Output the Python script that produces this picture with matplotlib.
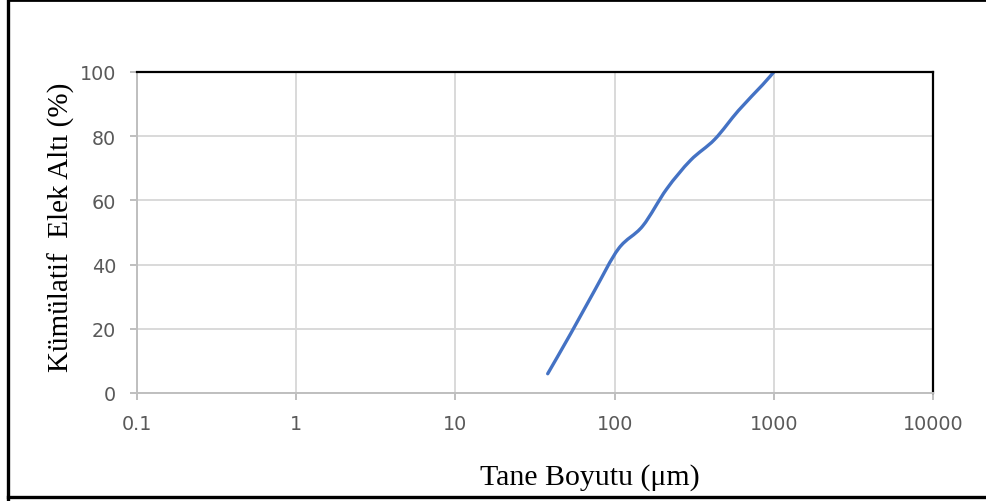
import numpy as np
import matplotlib.pyplot as plt
from matplotlib.path import Path
from matplotlib.patches import PathPatch
from matplotlib.lines import Line2D

# sieve analysis: particle size (um) vs cumulative passing (%)
size_um = [38, 53, 75, 106, 150, 212, 300, 425, 600, 850, 1000]
passing = [6, 18.5, 32, 45, 52, 63.5, 72.5, 79, 88, 96, 100]

x_ticks = [0.1, 1, 10, 100, 1000, 10000]
x_tick_labels = ["0.1", "1", "10", "100", "1000", "10000"]
y_ticks = [0, 20, 40, 60, 80, 100]


def smooth_path(xs, ys):
    # Excel-style smoothed line: cubic bezier segments, control points from neighbours
    lx = np.log10(xs)
    ys = np.asarray(ys, dtype=float)
    n = len(lx)
    verts = [(xs[0], ys[0])]
    codes = [Path.MOVETO]
    for i in range(n - 1):
        a = max(i - 1, 0)
        b = min(i + 2, n - 1)
        c1 = (lx[i] + (lx[i + 1] - lx[a]) / 6, ys[i] + (ys[i + 1] - ys[a]) / 6)
        c2 = (lx[i + 1] - (lx[b] - lx[i]) / 6, ys[i + 1] - (ys[b] - ys[i]) / 6)
        verts += [(10 ** c1[0], c1[1]), (10 ** c2[0], c2[1]), (xs[i + 1], ys[i + 1])]
        codes += [Path.CURVE4] * 3
    return Path(verts, codes)


fig = plt.figure(figsize=(9.87, 5.02), dpi=100)
ax = fig.add_axes([137 / 987, 1 - 394 / 502, (933 - 137) / 987, (394 - 73) / 502])

ax.set_xscale("log")
ax.set_xlim(0.1, 10000)
ax.set_ylim(0, 100)
ax.set_xticks(x_ticks)
ax.set_xticklabels(x_tick_labels)
ax.xaxis.set_minor_locator(plt.NullLocator())
ax.set_yticks(y_ticks)

ax.grid(color="#d9d9d9", lw=1.4)
ax.set_axisbelow(True)
for s in ["left", "bottom"]:
    ax.spines[s].set_color("#bfbfbf")
    ax.spines[s].set_linewidth(1.4)
for s in ["top", "right"]:
    ax.spines[s].set_color("black")
    ax.spines[s].set_linewidth(1.6)
ax.tick_params(length=5, width=1.4, color="#bfbfbf", labelcolor="#595959",
               labelsize=13.8, pad=10)

patch = PathPatch(smooth_path(size_um, passing), facecolor="none",
                  edgecolor="#4472c4", lw=2.4, capstyle="round")
ax.add_patch(patch)

fig.text(590 / 987, 1 - 478 / 502, "Tane Boyutu (\u03bcm)", ha="center", va="center",
         family="Liberation Serif", fontsize=21.5)
fig.text(61 / 987, 1 - 227 / 502, "Kümülatif  Elek Altı (%)", ha="center", va="center",
         rotation=90, family="Liberation Serif", fontsize=21)

# outer frame
fig.add_artist(Line2D([8 / 987, 8 / 987], [0, 1], transform=fig.transFigure, color="black", lw=2.4))
fig.add_artist(Line2D([8 / 987, 1], [1 - 1 / 502, 1 - 1 / 502], transform=fig.transFigure, color="black", lw=2.0))
fig.add_artist(Line2D([8 / 987, 1], [1 - 498 / 502, 1 - 498 / 502], transform=fig.transFigure, color="black", lw=2.4))

fig.savefig("out.png", dpi=100)
